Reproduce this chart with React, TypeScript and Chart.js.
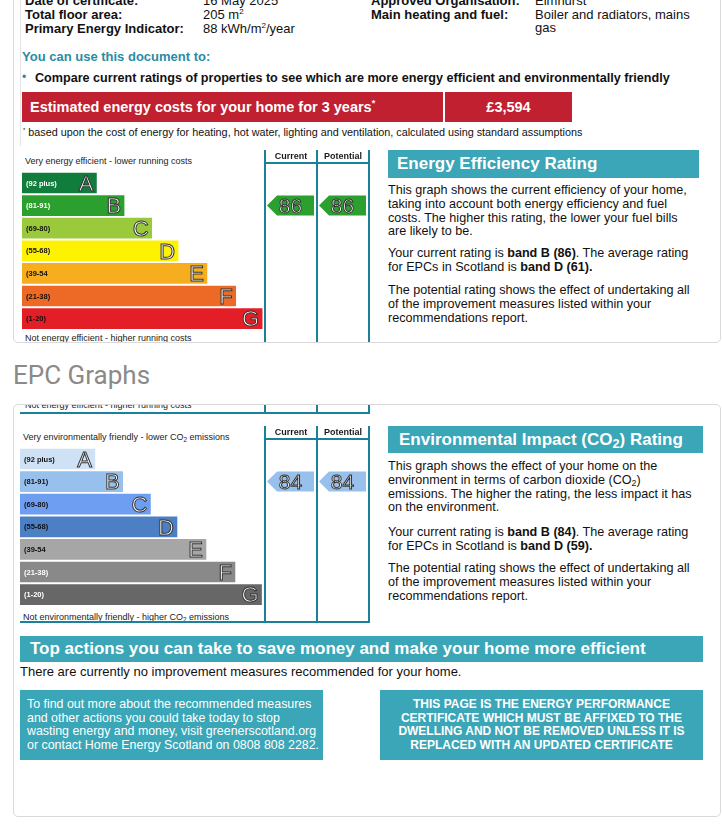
import React, { useEffect, useRef } from 'react';
import { Chart, registerables } from 'chart.js';

Chart.register(...registerables);

const FONT = "'Liberation Sans', Arial, Helvetica, sans-serif";

// ---- data ----
const BANDS = ['A', 'B', 'C', 'D', 'E', 'F', 'G'];
const BAND_RANGES = ['(92 plus)', '(81-91)', '(69-80)', '(55-68)', '(39-54', '(21-38)', '(1-20)'];
const BAND_MIN = [92, 81, 69, 55, 39, 21, 1];
const BAR_LENGTHS = [31, 42.5, 54, 65, 77, 89, 100];
const COLUMN_HEADERS = ['Current', 'Potential'];

const EE_COLORS = ['#117d3c', '#2ca02e', '#9aca3c', '#fff200', '#f6ae1f', '#ec6a25', '#e31e26'];
const EE_LABEL_COLORS = ['#ffffff', '#ffffff', '#111111', '#111111', '#111111', '#111111', '#111111'];
const EI_COLORS = ['#cfe2f5', '#98c0ec', '#6e9ef2', '#4c7fc3', '#a6a6a6', '#898989', '#676767'];
const EI_LABEL_COLORS = ['#111111', '#111111', '#111111', '#111111', '#111111', '#ffffff', '#ffffff'];

const EE_CURRENT = 86;
const EE_POTENTIAL = 86;
const EE_AVERAGE = 61;
const EI_CURRENT = 84;
const EI_POTENTIAL = 84;
const EI_AVERAGE = 59;

const TEAL = '#3aa6b7';
const LINE_TEAL = '#1b8199';

const bandOf = (r: number) => BAND_MIN.findIndex((m) => r >= m);

function EpcCanvas(props: any) {
  const { colTop, barsLeft, colors, labelColors, current, potential } = props;
  const ref = useRef<HTMLCanvasElement>(null);
  useEffect(() => {
    const plugin = {
      id: 'epcDecor',
      afterDatasetsDraw(chart: any) {
        const { ctx, chartArea, scales } = chart;
        const meta = chart.getDatasetMeta(0);
        ctx.save();
        meta.data.forEach((bar: any, i: number) => {
          const p = bar.getProps(['x', 'y', 'base', 'height'], true);
          ctx.font = `bold 7.5px ${FONT}`;
          ctx.fillStyle = labelColors[i];
          ctx.textAlign = 'left';
          ctx.textBaseline = 'middle';
          ctx.fillText(BAND_RANGES[i], p.base + 4, p.y + 0.5);
          const fs = 22;
          ctx.font = `${fs}px ${FONT}`;
          ctx.textAlign = 'right';
          ctx.textBaseline = 'alphabetic';
          ctx.fillStyle = '#ffffff';
          ctx.strokeStyle = '#333333';
          ctx.lineWidth = 1;
          const by = p.y + fs * 0.358;
          ctx.fillText(BANDS[i], p.x - 3, by);
          ctx.strokeText(BANDS[i], p.x - 3, by);
        });
        const xr = chartArea.right;
        const xm = xr - 52;
        const xl = xr - 104;
        const yTop = 5;
        const yBot = chart.height - 5;
        ctx.strokeStyle = LINE_TEAL;
        ctx.lineWidth = 2;
        ctx.beginPath();
        [xl, xm, xr].forEach((x) => {
          ctx.moveTo(x, yTop);
          ctx.lineTo(x, yBot);
        });
        ctx.moveTo(xl - 1, 18);
        ctx.lineTo(xr + 1, 18);
        ctx.moveTo(0, yBot);
        ctx.lineTo(xr + 1, yBot);
        ctx.stroke();
        ctx.font = `bold 9px ${FONT}`;
        ctx.fillStyle = '#1a1a1a';
        ctx.textAlign = 'center';
        ctx.textBaseline = 'middle';
        ctx.fillText(COLUMN_HEADERS[0], (xl + xm) / 2, 11.5);
        ctx.fillText(COLUMN_HEADERS[1], (xm + xr) / 2, 11.5);
        [current, potential].forEach((r: number, k: number) => {
          const bi = bandOf(r);
          const yc = scales.y.getPixelForValue(bi);
          const h = meta.data[bi].height;
          const x0 = (k === 0 ? xl : xm) + 2;
          const x1 = (k === 0 ? xm : xr) - 3;
          ctx.beginPath();
          ctx.moveTo(x0, yc);
          ctx.lineTo(x0 + 10, yc - h / 2);
          ctx.lineTo(x1, yc - h / 2);
          ctx.lineTo(x1, yc + h / 2);
          ctx.lineTo(x0 + 10, yc + h / 2);
          ctx.closePath();
          ctx.fillStyle = colors[bi];
          ctx.fill();
          const fs = 21;
          ctx.font = `${fs}px ${FONT}`;
          ctx.textAlign = 'center';
          ctx.textBaseline = 'alphabetic';
          ctx.fillStyle = '#ffffff';
          ctx.strokeStyle = '#333333';
          ctx.lineWidth = 1;
          const tx = (x0 + x1) / 2;
          const ty = yc + fs * 0.358;
          ctx.fillText(String(r), tx, ty);
          ctx.strokeText(String(r), tx, ty);
        });
        ctx.restore();
      },
    };
    const chart = new Chart(ref.current as HTMLCanvasElement, {
      type: 'bar',
      data: {
        labels: BANDS,
        datasets: [
          {
            data: BAR_LENGTHS,
            backgroundColor: colors,
            borderWidth: 0,
            barThickness: 20,
          },
        ],
      },
      options: {
        indexAxis: 'y',
        animation: false,
        responsive: false,
        maintainAspectRatio: false,
        events: [],
        layout: { padding: { top: 26.7, bottom: 21.1, left: barsLeft - 20, right: 3 } },
        scales: {
          x: { display: false, min: 0, max: 144.5 },
          y: { display: false },
        },
        plugins: { legend: { display: false }, tooltip: { enabled: false } },
      },
      plugins: [plugin],
    } as any);
    return () => chart.destroy();
  }, []);
  return (
    <canvas
      ref={ref}
      width={352}
      height={206}
      style={{ position: 'absolute', left: 20, top: colTop - 5, width: 352, height: 206 }}
    />
  );
}

function Graph(props: any) {
  const { colTop, barsLeft, topText, bottomText, bottomOffset } = props;
  const small: any = {
    position: 'absolute',
    left: barsLeft + 3,
    fontSize: 9,
    lineHeight: '12px',
    whiteSpace: 'nowrap',
    color: '#222',
  };
  return (
    <>
      <div style={{ ...small, top: colTop + 10.5 - 6 }}>{topText}</div>
      <div style={{ ...small, top: colTop + bottomOffset - 6 }}>{bottomText}</div>
      <EpcCanvas {...props} />
    </>
  );
}

const t = (left: number, center: number, lh: number, extra: any = {}): any => ({
  position: 'absolute',
  left,
  top: center - lh / 2,
  lineHeight: lh + 'px',
  whiteSpace: 'nowrap',
  ...extra,
});

const co2 = (
  <>
    CO<sub style={{ fontSize: '0.7em', verticalAlign: '-0.25em', lineHeight: 0 }}>2</sub>
  </>
);

function Panel(props: any) {
  const { left, top, width, height, title, titleLeft, paras } = props;
  return (
    <>
      <div
        style={{
          position: 'absolute',
          left,
          top,
          width,
          height,
          background: TEAL,
          color: '#fff',
          fontWeight: 'bold',
          fontSize: 17,
          lineHeight: height + 'px',
          whiteSpace: 'nowrap',
        }}
      >
        <span style={{ position: 'absolute', left: titleLeft - left }}>{title}</span>
      </div>
      {paras.map((p: any, i: number) => (
        <div key={i} style={t(388, p.center, 13.7, { fontSize: 12.6, color: '#111' })}>
          {p.content}
        </div>
      ))}
    </>
  );
}

export default function App() {
  const lbl: any = { fontWeight: 'bold', fontSize: 13, color: '#111' };
  const val: any = { fontSize: 13, color: '#111' };
  const sup = <sup style={{ fontSize: 8, verticalAlign: '5px', lineHeight: 0 }}>2</sup>;
  const para3 = (
    <>
      The potential rating shows the effect of undertaking all
      <br />
      of the improvement measures listed within your
      <br />
      recommendations report.
    </>
  );
  return (
    <div
      style={{
        position: 'absolute',
        left: 0,
        top: 0,
        width: 722,
        height: 824,
        overflow: 'hidden',
        background: '#fff',
        fontFamily: FONT,
      }}
    >
      {/* Card 1 */}
      <div
        style={{
          position: 'absolute',
          left: 13,
          top: -10,
          width: 708,
          height: 353,
          boxSizing: 'border-box',
          border: '1px solid #dadada',
          borderRadius: 5,
          overflow: 'hidden',
          background: '#fff',
        }}
      >
        <div style={{ position: 'absolute', left: -14, top: 9 }}>
          <div style={{ position: 'absolute', left: 20, top: -10, width: 1, height: 156, background: '#e4e4e4' }} />
          <div style={t(25, 1, 14, lbl)}>Date of certificate:</div>
          <div style={t(203, 1, 14, val)}>16 May 2025</div>
          <div style={t(371, 1, 14, lbl)}>Approved Organisation:</div>
          <div style={t(535, 1, 14, val)}>Elmhurst</div>
          <div style={t(25, 15, 14, lbl)}>Total floor area:</div>
          <div style={t(203, 15, 14, val)}>205 m{sup}</div>
          <div style={t(371, 15, 14, lbl)}>Main heating and fuel:</div>
          <div style={t(535, 15, 14, val)}>Boiler and radiators, mains</div>
          <div style={t(25, 29, 14, lbl)}>Primary Energy Indicator:</div>
          <div style={t(203, 29, 14, val)}>88 kWh/m{sup}/year</div>
          <div style={t(535, 28, 14, val)}>gas</div>

          <div style={t(22, 57, 16, { fontWeight: 'bold', fontSize: 13, color: '#2a8ca3' })}>
            You can use this document to:
          </div>
          <div style={t(22, 77, 16, { fontSize: 12, color: '#2a8ca3' })}>•</div>
          <div style={t(35, 78, 16, { fontWeight: 'bold', fontSize: 12.6, color: '#111' })}>
            Compare current ratings of properties to see which are more energy efficient and environmentally friendly
          </div>
          <div style={{ position: 'absolute', left: 22, top: 92, width: 421, height: 30, background: '#c0202f' }} />
          <div style={{ position: 'absolute', left: 445, top: 92, width: 127, height: 30, background: '#c0202f' }} />
          <div style={t(30, 107, 18, { fontWeight: 'bold', fontSize: 14.5, color: '#fff' })}>
            Estimated energy costs for your home for 3 years
            <sup style={{ fontSize: 9, verticalAlign: '6px', lineHeight: 0 }}>*</sup>
          </div>
          <div
            style={{
              position: 'absolute',
              left: 445,
              top: 92,
              width: 127,
              height: 30,
              lineHeight: '30px',
              textAlign: 'center',
              fontWeight: 'bold',
              fontSize: 14.5,
              color: '#fff',
            }}
          >
            £3,594
          </div>
          <div style={t(23, 132, 13, { fontSize: 10.8, color: '#111' })}>
            <sup style={{ fontSize: 6, verticalAlign: '4px', lineHeight: 0 }}>*</sup> based upon the cost of energy for
            heating, hot water, lighting and ventilation, calculated using standard assumptions
          </div>

          <Graph
            colTop={150}
            barsLeft={22}
            bottomOffset={188}
            colors={EE_COLORS}
            labelColors={EE_LABEL_COLORS}
            current={EE_CURRENT}
            potential={EE_POTENTIAL}
            topText="Very energy efficient - lower running costs"
            bottomText="Not energy efficient - higher running costs"
          />
          <Panel
            left={388}
            top={150}
            width={311}
            height={28}
            titleLeft={397}
            title="Energy Efficiency Rating"
            paras={[
              {
                center: 191,
                content: (
                  <>
                    This graph shows the current efficiency of your home,
                    <br />
                    taking into account both energy efficiency and fuel
                    <br />
                    costs. The higher this rating, the lower your fuel bills
                    <br />
                    are likely to be.
                  </>
                ),
              },
              {
                center: 254,
                content: (
                  <>
                    Your current rating is <b>band B ({EE_CURRENT})</b>. The average rating
                    <br />
                    for EPCs in Scotland is <b>band D ({EE_AVERAGE}).</b>
                  </>
                ),
              },
              { center: 291, content: para3 },
            ]}
          />
        </div>
      </div>

      {/* Heading */}
      <div style={t(13, 375, 30, { fontFamily: 'Roboto, sans-serif', fontSize: 26, color: '#8a8a8a' })}>EPC Graphs</div>

      {/* Card 2 */}
      <div
        style={{
          position: 'absolute',
          left: 13,
          top: 404,
          width: 708,
          height: 413,
          boxSizing: 'border-box',
          border: '1px solid #dadada',
          borderRadius: 5,
          overflow: 'hidden',
          background: '#fff',
        }}
      >
        <div style={{ position: 'absolute', left: -14, top: -405 }}>
          <Graph
            colTop={217}
            barsLeft={22}
            bottomOffset={188}
            colors={EE_COLORS}
            labelColors={EE_LABEL_COLORS}
            current={EE_CURRENT}
            potential={EE_POTENTIAL}
            topText="Very energy efficient - lower running costs"
            bottomText="Not energy efficient - higher running costs"
          />
          <Graph
            colTop={426}
            barsLeft={20}
            bottomOffset={191}
            colors={EI_COLORS}
            labelColors={EI_LABEL_COLORS}
            current={EI_CURRENT}
            potential={EI_POTENTIAL}
            topText={<>Very environmentally friendly - lower {co2} emissions</>}
            bottomText={<>Not environmentally friendly - higher {co2} emissions</>}
          />
          <Panel
            left={388}
            top={426}
            width={315}
            height={27}
            titleLeft={399}
            title={<>Environmental Impact (CO<sub style={{ fontSize: '0.75em', verticalAlign: '-0.2em', lineHeight: 0 }}>2</sub>) Rating</>}
            paras={[
              {
                center: 467,
                content: (
                  <>
                    This graph shows the effect of your home on the
                    <br />
                    environment in terms of carbon dioxide ({co2})
                    <br />
                    emissions. The higher the rating, the less impact it has
                    <br />
                    on the environment.
                  </>
                ),
              },
              {
                center: 533,
                content: (
                  <>
                    Your current rating is <b>band B ({EI_CURRENT})</b>. The average rating
                    <br />
                    for EPCs in Scotland is <b>band D ({EI_AVERAGE}).</b>
                  </>
                ),
              },
              { center: 569, content: para3 },
            ]}
          />

          <div style={{ position: 'absolute', left: 20, top: 636, width: 683, height: 26, background: TEAL }} />
          <div style={t(30, 649, 26, { fontWeight: 'bold', fontSize: 17, color: '#fff' })}>
            Top actions you can take to save money and make your home more efficient
          </div>
          <div style={t(20, 672, 16, { fontSize: 13, color: '#111' })}>
            There are currently no improvement measures recommended for your home.
          </div>
          <div style={{ position: 'absolute', left: 20, top: 690, width: 303, height: 70, background: TEAL }} />
          <div style={{ position: 'absolute', left: 380, top: 690, width: 323, height: 70, background: TEAL }} />
          <div style={{ position: 'absolute', left: 27, top: 698, fontSize: 12.4, lineHeight: '13.7px', color: '#fff', whiteSpace: 'nowrap' }}>
            To find out more about the recommended measures
            <br />
            and other actions you could take today to stop
            <br />
            wasting energy and money, visit greenerscotland.org
            <br />
            or contact Home Energy Scotland on 0808 808 2282.
          </div>
          <div
            style={{
              position: 'absolute',
              left: 380,
              top: 698,
              width: 323,
              textAlign: 'center',
              fontSize: 12,
              fontWeight: 'bold',
              lineHeight: '13.7px',
              color: '#fff',
              whiteSpace: 'nowrap',
            }}
          >
            THIS PAGE IS THE ENERGY PERFORMANCE
            <br />
            CERTIFICATE WHICH MUST BE AFFIXED TO THE
            <br />
            DWELLING AND NOT BE REMOVED UNLESS IT IS
            <br />
            REPLACED WITH AN UPDATED CERTIFICATE
          </div>
        </div>
      </div>
    </div>
  );
}
